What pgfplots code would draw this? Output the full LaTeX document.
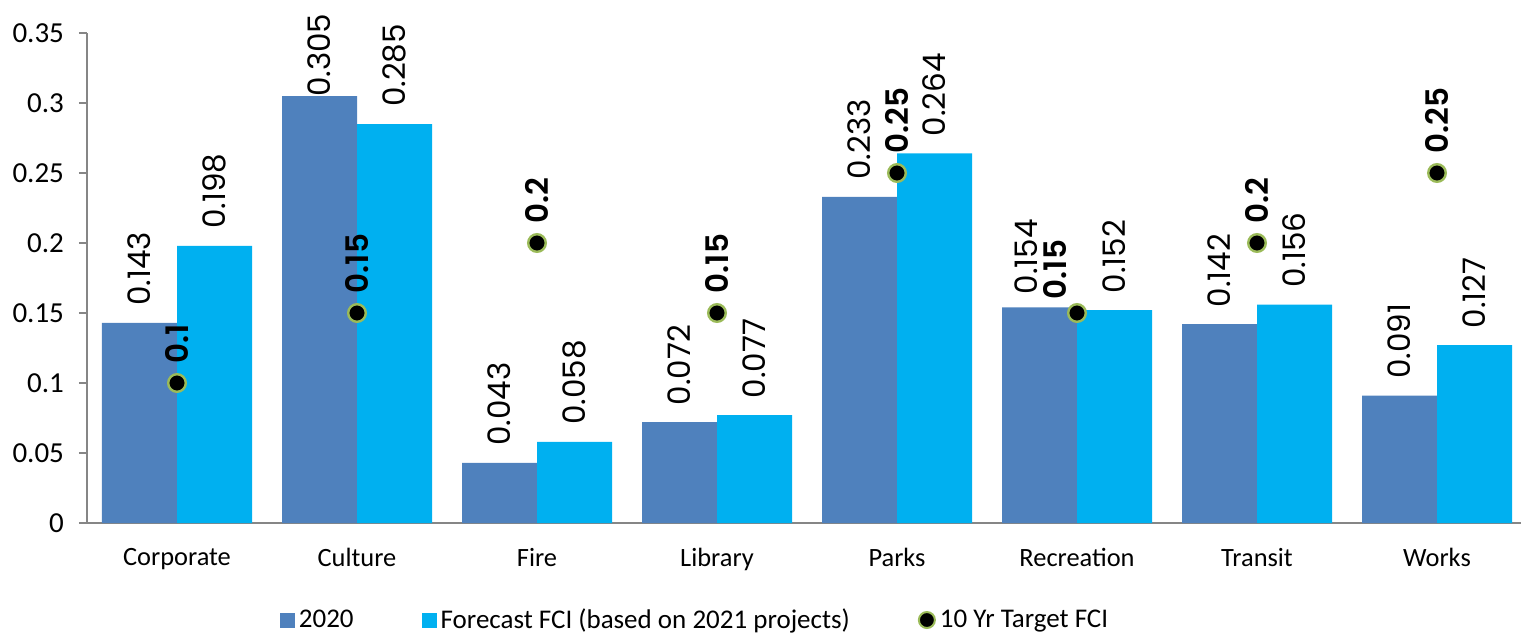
\documentclass[border=0pt]{standalone}
\usepackage{fontspec}
\setmainfont{Carlito}
\newfontfamily\lblfont{Poppins}
\newfontfamily\lblbold{Poppins SemiBold}
\usepackage{pgfplots}
\pgfplotsset{compat=1.18}
\definecolor{c2020}{HTML}{4F81BD}
\definecolor{cfc}{HTML}{00B0F0}
\definecolor{cgreen}{HTML}{9BBB59}
\definecolor{axgray}{HTML}{868686}
\begin{document}
\begin{tikzpicture}
\begin{axis}[
  name=ax,
  scale only axis,
  width=720pt, height=245pt,
  xmin=-0.5, xmax=7.5, ymin=0, ymax=0.35,
  ybar=0pt, bar width=37.5pt,
  axis x line*=bottom, axis y line*=left,
  axis line style={axgray, line width=0.8pt},
  xtick={0,...,7},
  xticklabels={Corporate,Culture,Fire,Library,Parks,Recreation,Transit,Works},
  x tick style={draw=none},
  extra x ticks={-0.5,0.5,...,7.5},
  extra x tick labels={},
  extra x tick style={tick style={draw=axgray, line width=0.8pt}, major tick length=5pt, tick align=outside},
  ytick={0,0.05,...,0.36},
  y tick style={axgray, line width=0.8pt},
  major tick length=4pt, tick align=outside,
  yticklabel style={/pgf/number format/fixed, /pgf/number format/precision=2, /pgf/number format/assume math mode=true, font=\fontsize{14.5}{16}\selectfont, xshift=-4pt},
  xticklabel style={font=\fontsize{13.2}{15}\selectfont, yshift=-5pt},
  clip=false,
  legend style={at={(0.1337,-0.198)}, anchor=west, draw=none, inner sep=0pt, legend columns=3, font=\fontsize{13.5}{16}\selectfont, /tikz/every even column/.append style={column sep=32pt}},
  legend cell align=left,
]
\addplot[ybar, fill=c2020, draw=none,
  legend image code/.code={\fill[c2020] (0pt,-3.75pt) rectangle (7.5pt,3.75pt);},
  visualization depends on={value \thisrow{s}\as\myshift},
  visualization depends on={value \thisrow{t}\as\myside},
  nodes near coords={\pgfmathprintnumber[fixed,precision=3,assume math mode=true]{\pgfplotspointmeta}},
  every node near coord/.append style={rotate=90, anchor=west, font=\lblfont\fontsize{15.5}{17}\selectfont, black, xshift=\myshift, yshift=\myside}]
  table {
x y s t
0 0.143 5pt 0pt
1 0.305 -4pt 0pt
2 0.043 5pt 0pt
3 0.072 5pt 0pt
4 0.233 5pt 0pt
5 0.154 3pt 6.5pt
6 0.142 5pt 0pt
7 0.091 5pt 0pt
};
\addlegendentry{2020}
\addplot[ybar, fill=cfc, draw=none,
  legend image code/.code={\fill[cfc] (0pt,-3.75pt) rectangle (7.5pt,3.75pt);},
  nodes near coords={\pgfmathprintnumber[fixed,precision=3,assume math mode=true]{\pgfplotspointmeta}},
  every node near coord/.append style={rotate=90, anchor=west, font=\lblfont\fontsize{15.5}{17}\selectfont, black, xshift=5pt}]
  coordinates {(0,0.198) (1,0.285) (2,0.058) (3,0.077) (4,0.264) (5,0.152) (6,0.156) (7,0.127)};
\addlegendentry{Forecast FCI (based on 2021 projects)}
\addplot[only marks, mark=*, mark size=4.4pt, mark options={fill=black, draw=cgreen, line width=1.2pt},
  legend image code/.code={\draw[fill=black, draw=cgreen, line width=1pt] (4pt,0pt) circle (4pt);},
  visualization depends on={value \thisrow{s}\as\tshift},
  visualization depends on={value \thisrow{t}\as\tside},
  nodes near coords={\pgfmathprintnumber[fixed,precision=3,assume math mode=true]{\pgfplotspointmeta}},
  every node near coord/.append style={rotate=90, anchor=west, font=\lblbold\fontsize{15.5}{17}\selectfont, black, xshift=\tshift, yshift=\tside}]
  table {
x y s t
0 0.1 6pt 0pt
1 0.15 6pt 0pt
2 0.2 6pt 0pt
3 0.15 6pt 0pt
4 0.25 6pt 0pt
5 0.15 3pt 11pt
6 0.2 6pt 0pt
7 0.25 6pt 0pt
};
\addlegendentry{10 Yr Target FCI}
\end{axis}
\pgfresetboundingbox
\path ([xshift=-43.5pt,yshift=-55pt]ax.south west) rectangle ([xshift=-3pt,yshift=16.5pt]ax.north east);
\end{tikzpicture}
\end{document}
